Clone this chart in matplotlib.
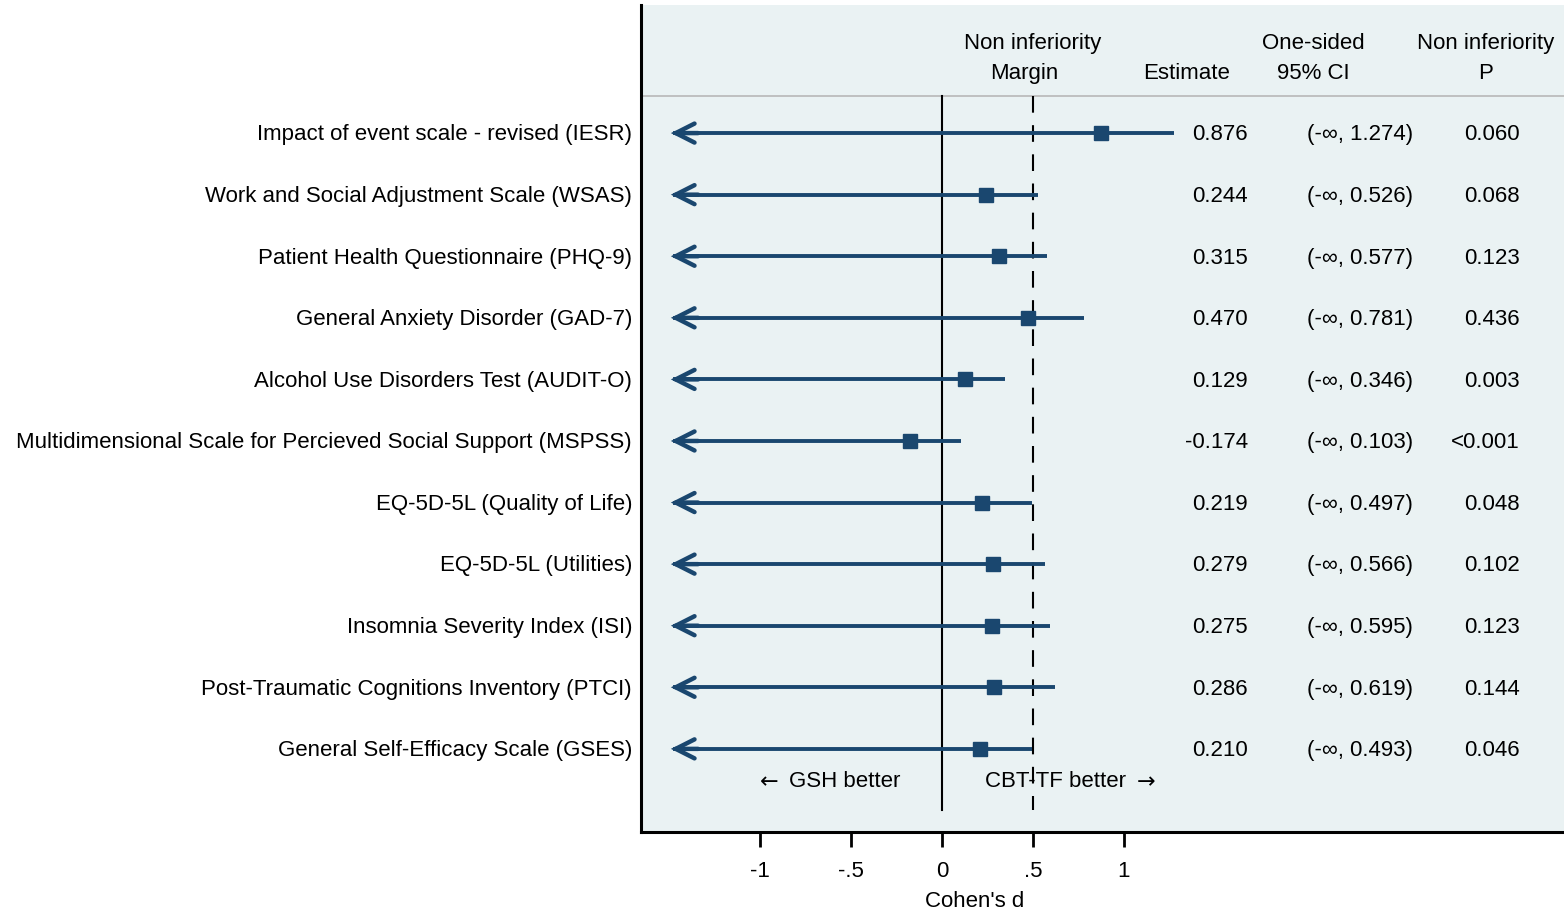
import matplotlib
matplotlib.use("Agg")
import matplotlib.pyplot as plt
from matplotlib.patches import FancyArrowPatch

plt.rcParams['font.family'] = ['Liberation Sans', 'DejaVu Sans']

outcomes = [
    "Impact of event scale - revised (IESR)",
    "Work and Social Adjustment Scale (WSAS)",
    "Patient Health Questionnaire (PHQ-9)",
    "General Anxiety Disorder (GAD-7)",
    "Alcohol Use Disorders Test (AUDIT-O)",
    "Multidimensional Scale for Percieved Social Support (MSPSS)",
    "EQ-5D-5L (Quality of Life)",
    "EQ-5D-5L (Utilities)",
    "Insomnia Severity Index (ISI)",
    "Post-Traumatic Cognitions Inventory (PTCI)",
    "General Self-Efficacy Scale (GSES)",
]
estimates = [0.876, 0.244, 0.315, 0.470, 0.129, -0.174, 0.219, 0.279, 0.275, 0.286, 0.210]
upper = [1.274, 0.526, 0.577, 0.781, 0.346, 0.103, 0.497, 0.566, 0.595, 0.619, 0.493]
pvals = ["0.060", "0.068", "0.123", "0.436", "0.003", "<0.001", "0.048", "0.102", "0.123", "0.144", "0.046"]
margin = 0.5
xticks = [-1, -0.5, 0, 0.5, 1]
xticklabels = ["-1", "-.5", "0", ".5", "1"]

W, H = 1564, 913
fig = plt.figure(figsize=(W / 100, H / 100), dpi=100)
fig.patch.set_facecolor('white')
ax = fig.add_axes([641 / W, 1 - 832 / H, 1 - 641 / W, (832 - 5) / H])
navy = '#1a476f'
bg = '#eaf2f3'
ax.set_facecolor(bg)

ax.set_xlim(-1.654, 3.418)
ax.set_ylim(11.35, -2.08)
FS = 16
dy = 0.03

for s in ['top', 'right']:
    ax.spines[s].set_visible(False)
ax.spines['left'].set_linewidth(2.2)
ax.spines['bottom'].set_linewidth(2.2)
ax.set_yticks([])
ax.set_xticks(xticks)
ax.set_xticklabels(xticklabels, fontsize=FS)
ax.tick_params(axis='x', length=11, width=2, pad=10, colors='black')

# header separator
ax.axhline(-0.6, color='#b8b8b8', lw=1.2)
# reference lines
ax.plot([0, 0], [-0.6, 10.99], color='black', lw=1.5, zorder=2)
ax.plot([margin, margin], [-0.6, 10.99], color='black', lw=1.5, ls=(0, (8, 6)), zorder=2)

arrow_tip = -1.49
for i, (est, hi) in enumerate(zip(estimates, upper)):
    y = i
    ax.plot([arrow_tip + 0.01, hi], [y, y], color=navy, lw=2.8, solid_capstyle='butt', zorder=3)
    arr = FancyArrowPatch((arrow_tip + 0.15, y), (arrow_tip, y),
                          arrowstyle='->,head_length=0.75,head_width=0.38',
                          mutation_scale=18, color=navy, lw=3.2, zorder=3,
                          shrinkA=0, shrinkB=0, joinstyle='miter', capstyle='round')
    ax.add_patch(arr)
    ax.plot(est, y, marker='s', markersize=9.5, color=navy, zorder=4, mec=navy)
    ty = y + dy
    ax.text(-1.703, ty, outcomes[i], ha='right', va='center', fontsize=FS, clip_on=False)
    ax.text(1.681, ty, f"{est:.3f}", ha='right', va='center', fontsize=FS)
    ax.text(2.297, ty, f"(-\u221e, {hi:.3f})", ha='center', va='center', fontsize=FS)
    ax.text(3.176, ty, pvals[i], ha='right', va='center', fontsize=FS)

# headers
yl1 = (42 - 133) / 61.6 + dy
yl2 = (72 - 133) / 61.6 + dy
ax.text(0.5, yl1, "Non inferiority", ha='center', va='center', fontsize=FS)
ax.text(0.45, yl2, "Margin", ha='center', va='center', fontsize=FS)
ax.text(1.346, yl2, "Estimate", ha='center', va='center', fontsize=FS)
ax.text(2.038, yl1, "One-sided", ha='center', va='center', fontsize=FS)
ax.text(2.038, yl2, "95% CI", ha='center', va='center', fontsize=FS)
ax.text(2.989, yl1, "Non inferiority", ha='center', va='center', fontsize=FS)
ax.text(2.989, yl2, "P", ha='center', va='center', fontsize=FS)

# direction labels (arrows drawn in DejaVu Sans for longer glyphs)
ydir = (780 - 133) / 61.6 + dy
ax.text(-1.0, ydir, "\u2190", ha='left', va='center', fontsize=FS, family=['DejaVu Sans'])
ax.text(-0.84, ydir, "GSH better", ha='left', va='center', fontsize=FS)
ax.text(0.235, ydir, "CBT-TF better", ha='left', va='center', fontsize=FS)
ax.text(1.17, ydir, "\u2192", ha='right', va='center', fontsize=FS, family=['DejaVu Sans'])

fig.text(975 / W, 1 - 901 / H, "Cohen's d", ha='center', va='center', fontsize=FS)

fig.savefig("out.png", dpi=100, facecolor='white')
